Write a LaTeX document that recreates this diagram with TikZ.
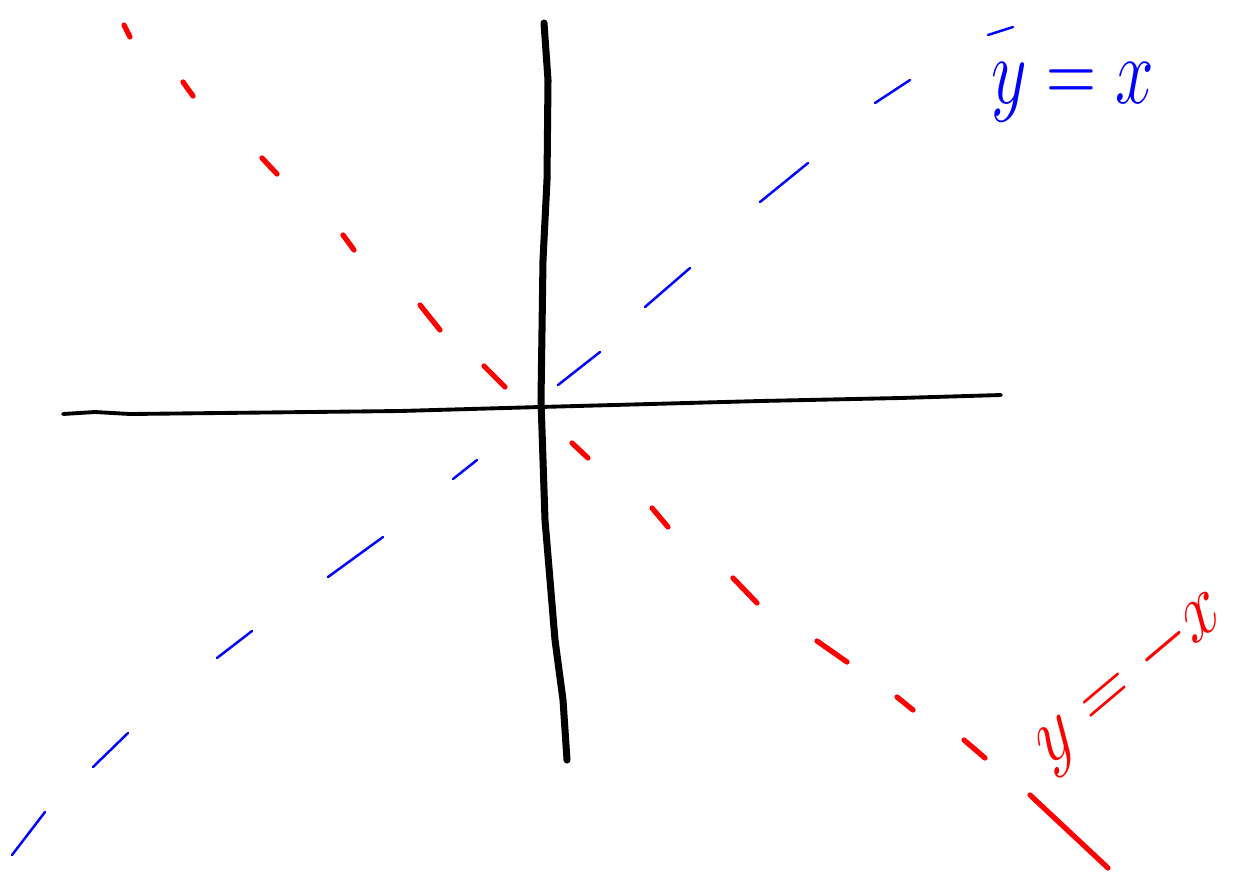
\documentclass[tikz,border=0pt]{standalone}
\usetikzlibrary{positioning}

\begin{document}
\begin{tikzpicture}[
  x=0.02cm, y=-0.02cm,
  axis/.style={draw=black, line cap=round, line join=round},
  posdash/.style={draw=blue, line width=1.4pt, line cap=round},
  negdash/.style={draw=red, line width=3pt, line cap=round},
  lbl/.style={font=\huge, inner sep=0pt}
]
\useasboundingbox (0,0) rectangle (1247,873);

% axes
\coordinate (xl) at (63,414);
\coordinate (xr) at (1001,395);
\coordinate (yt) at (544,23);
\coordinate (yb) at (567,760);
\draw[axis, line width=2.2pt] (xl) -- (95,412) -- (130,414) -- (400,411) -- (540,407)
  -- (760,401) -- (900,398) -- (xr);
\draw[axis, line width=4pt] (yt) -- (548,80) -- (547,180) -- (543,260) -- (541,400)
  -- (545,520) -- (555,640) -- (563,700) -- (yb);

% y = x
\foreach \ax/\ay/\bx/\by in {12/855/45/812, 93/767/128/733, 217/658/252/631,
    328/577/383/537, 453/479/477/460, 558/385/600/352, 645/307/690/268,
    760/202/808/163, 875/103/910/80, 988/35/1013/27}
  \draw[posdash] (\ax,\ay) -- (\bx,\by);

% y = -x
\foreach \ax/\ay/\bx/\by in {124/25/130/37, 183/82/193/96, 262/158/277/174,
    343/235/354/250, 420/305/440/330, 484/366/505/387, 572/443/588/458,
    652/508/668/527, 733/578/757/603, 817/641/847/662, 897/697/913/710,
    964/740/985/758, 1030/795/1108/868}
  \draw[negdash] (\ax,\ay) -- (\bx,\by);

% labels
\node[lbl, text=blue, xscale=1.9, yscale=2.6] (lpos) at (1073,92) {$y=x$};
\node[lbl, text=red, xscale=1.85, yscale=2.4, rotate=33] (lneg) at (1130,680) {$y=-x$};

\end{tikzpicture}
\end{document}
